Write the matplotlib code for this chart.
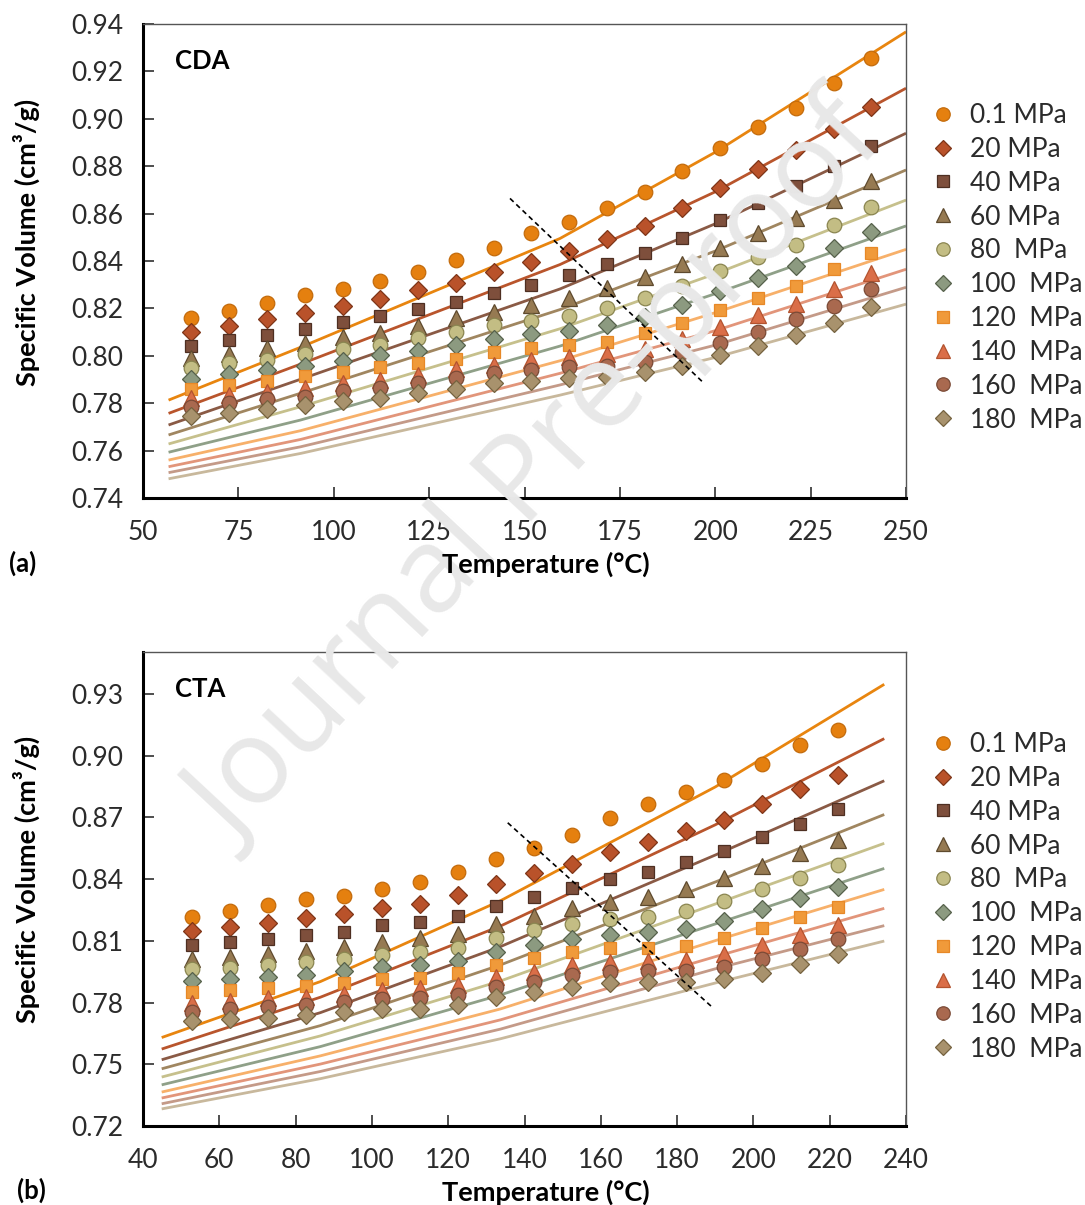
import matplotlib
matplotlib.use('Agg')
import matplotlib.pyplot as plt
from matplotlib.lines import Line2D

plt.rcParams['font.family'] = ['Lato', 'DejaVu Sans']

# ---------------- data ----------------
labels = ['0.1 MPa', '20 MPa', '40 MPa', '60 MPa', '80  MPa', '100  MPa',
          '120  MPa', '140  MPa', '160  MPa', '180  MPa']

# CDA (a)
temp_a = [62.7, 72.6, 82.5, 92.4, 102.3, 112.2, 122.1, 132.0, 141.9, 151.8,
          161.7, 171.6, 181.5, 191.4, 201.3, 211.2, 221.1, 231.0, 240.9]
cda_p0 = [0.8158, 0.8190, 0.8223, 0.8256, 0.8282, 0.8317, 0.8353, 0.8404, 0.8453, 0.8519, 0.8566, 0.8622, 0.8690, 0.8780, 0.8878, 0.8967, 0.9047, 0.9150, 0.9255]
cda_p20 = [0.8102, 0.8127, 0.8154, 0.8182, 0.8211, 0.8240, 0.8277, 0.8308, 0.8352, 0.8397, 0.8443, 0.8491, 0.8549, 0.8625, 0.8709, 0.8788, 0.8868, 0.8956, 0.9048]
cda_p40 = [0.8041, 0.8066, 0.8088, 0.8112, 0.8141, 0.8168, 0.8197, 0.8228, 0.8264, 0.8299, 0.8341, 0.8386, 0.8435, 0.8496, 0.8573, 0.8643, 0.8716, 0.8801, 0.8885]
cda_p60 = [0.7989, 0.8006, 0.8031, 0.8055, 0.8078, 0.8097, 0.8126, 0.8158, 0.8186, 0.8214, 0.8242, 0.8285, 0.8331, 0.8386, 0.8456, 0.8519, 0.8580, 0.8657, 0.8739]
cda_p80 = [0.7950, 0.7968, 0.7982, 0.8006, 0.8028, 0.8045, 0.8073, 0.8099, 0.8130, 0.8147, 0.8169, 0.8200, 0.8245, 0.8296, 0.8359, 0.8415, 0.8467, 0.8552, 0.8629]
cda_p100 = [0.7901, 0.7923, 0.7940, 0.7958, 0.7979, 0.8003, 0.8020, 0.8045, 0.8071, 0.8090, 0.8104, 0.8130, 0.8165, 0.8214, 0.8275, 0.8327, 0.8379, 0.8453, 0.8524]
cda_p120 = [0.7860, 0.7877, 0.7893, 0.7915, 0.7933, 0.7954, 0.7971, 0.7986, 0.8018, 0.8031, 0.8045, 0.8059, 0.8095, 0.8140, 0.8193, 0.8242, 0.8296, 0.8365, 0.8432]
cda_p140 = [0.7820, 0.7834, 0.7848, 0.7865, 0.7884, 0.7898, 0.7919, 0.7944, 0.7961, 0.7982, 0.7996, 0.8006, 0.8027, 0.8069, 0.8123, 0.8172, 0.8217, 0.8280, 0.8348]
cda_p160 = [0.7785, 0.7799, 0.7816, 0.7827, 0.7851, 0.7863, 0.7884, 0.7905, 0.7926, 0.7940, 0.7951, 0.7957, 0.7975, 0.8015, 0.8055, 0.8102, 0.8154, 0.8210, 0.8282]
cda_p180 = [0.7747, 0.7760, 0.7775, 0.7792, 0.7810, 0.7820, 0.7842, 0.7860, 0.7886, 0.7893, 0.7905, 0.7912, 0.7933, 0.7958, 0.8003, 0.8042, 0.8088, 0.8140, 0.8207]

# CDA model lines (read at a few temperatures)
fit_temp_a = [56.7, 91.3, 159.3, 200.0, 250.0]
cda_fit_p0 = [0.7813, 0.8036, 0.8495, 0.8859, 0.9367]
cda_fit_p20 = [0.7757, 0.7965, 0.8385, 0.8692, 0.9129]
cda_fit_p40 = [0.7708, 0.7901, 0.8282, 0.8557, 0.8939]
cda_fit_p60 = [0.7666, 0.7842, 0.8195, 0.8442, 0.8784]
cda_fit_p80 = [0.7628, 0.7785, 0.8114, 0.8346, 0.8657]
cda_fit_p100 = [0.7593, 0.7729, 0.8041, 0.8262, 0.8548]
cda_fit_p120 = [0.7560, 0.7684, 0.7979, 0.8182, 0.8449]
cda_fit_p140 = [0.7532, 0.7647, 0.7926, 0.8106, 0.8365]
cda_fit_p160 = [0.7507, 0.7616, 0.7877, 0.8045, 0.8289]
cda_fit_p180 = [0.7481, 0.7588, 0.7834, 0.7993, 0.8218]
cda_trans_T = [146.2, 196.6]
cda_trans_V = [0.8664, 0.7891]

# CTA (b)
temp_b = [52.8, 62.8, 72.7, 82.7, 92.6, 102.6, 112.6, 122.5, 132.5, 142.4,
          152.4, 162.4, 172.3, 182.3, 192.2, 202.2, 212.2, 222.1]
cta_p0 = [0.8214, 0.8245, 0.8274, 0.8302, 0.8319, 0.8352, 0.8384, 0.8433, 0.8496, 0.8549, 0.8614, 0.8695, 0.8763, 0.8824, 0.8881, 0.8962, 0.9051, 0.9127]
cta_p20 = [0.8148, 0.8169, 0.8188, 0.8213, 0.8231, 0.8261, 0.8279, 0.8323, 0.8376, 0.8428, 0.8473, 0.8533, 0.8579, 0.8633, 0.8687, 0.8764, 0.8836, 0.8905]
cta_p40 = [0.8080, 0.8093, 0.8111, 0.8129, 0.8145, 0.8177, 0.8193, 0.8221, 0.8271, 0.8314, 0.8358, 0.8400, 0.8433, 0.8481, 0.8536, 0.8603, 0.8666, 0.8739]
cta_p60 = [0.8011, 0.8023, 0.8036, 0.8052, 0.8072, 0.8093, 0.8113, 0.8133, 0.8182, 0.8222, 0.8261, 0.8290, 0.8314, 0.8352, 0.8404, 0.8464, 0.8525, 0.8590]
cta_p80 = [0.7962, 0.7970, 0.7983, 0.7996, 0.8011, 0.8031, 0.8045, 0.8064, 0.8113, 0.8153, 0.8181, 0.8206, 0.8217, 0.8245, 0.8295, 0.8352, 0.8407, 0.8468]
cta_p100 = [0.7905, 0.7914, 0.7926, 0.7934, 0.7954, 0.7975, 0.7983, 0.8002, 0.8048, 0.8080, 0.8111, 0.8129, 0.8142, 0.8158, 0.8198, 0.8253, 0.8307, 0.8360]
cta_p120 = [0.7850, 0.7862, 0.7873, 0.7882, 0.7897, 0.7914, 0.7921, 0.7946, 0.7983, 0.8015, 0.8048, 0.8064, 0.8067, 0.8077, 0.8115, 0.8164, 0.8214, 0.8266]
cta_p140 = [0.7797, 0.7810, 0.7821, 0.7829, 0.7841, 0.7862, 0.7870, 0.7886, 0.7926, 0.7950, 0.7983, 0.7999, 0.8002, 0.8007, 0.8036, 0.8080, 0.8129, 0.8177]
cta_p160 = [0.7756, 0.7768, 0.7778, 0.7789, 0.7805, 0.7816, 0.7821, 0.7837, 0.7878, 0.7902, 0.7934, 0.7948, 0.7954, 0.7954, 0.7975, 0.8012, 0.8061, 0.8108]
cta_p180 = [0.7708, 0.7721, 0.7727, 0.7740, 0.7753, 0.7769, 0.7769, 0.7789, 0.7829, 0.7853, 0.7875, 0.7894, 0.7899, 0.7899, 0.7915, 0.7946, 0.7986, 0.8035]

fit_temp_b = [44.9, 86.5, 133.7, 190.0, 234.3]
cta_fit_p0 = [0.7630, 0.7902, 0.8295, 0.8848, 0.9347]
cta_fit_p20 = [0.7574, 0.7826, 0.8172, 0.8664, 0.9083]
cta_fit_p40 = [0.7522, 0.7751, 0.8072, 0.8517, 0.8878]
cta_fit_p60 = [0.7478, 0.7688, 0.7983, 0.8386, 0.8714]
cta_fit_p80 = [0.7438, 0.7638, 0.7905, 0.8279, 0.8574]
cta_fit_p100 = [0.7400, 0.7586, 0.7837, 0.8182, 0.8452]
cta_fit_p120 = [0.7365, 0.7541, 0.7769, 0.8101, 0.8350]
cta_fit_p140 = [0.7336, 0.7501, 0.7716, 0.8023, 0.8258]
cta_fit_p160 = [0.7308, 0.7465, 0.7671, 0.7964, 0.8174]
cta_fit_p180 = [0.7283, 0.7430, 0.7624, 0.7895, 0.8099]
cta_trans_T = [135.6, 189.3]
cta_trans_V = [0.8674, 0.7776]

xticks_a = [50, 75, 100, 125, 150, 175, 200, 225, 250]
yticks_a = [0.74, 0.76, 0.78, 0.80, 0.82, 0.84, 0.86, 0.88, 0.90, 0.92, 0.94]
xticks_b = [40, 60, 80, 100, 120, 140, 160, 180, 200, 220, 240]
yticks_b = [0.72, 0.75, 0.78, 0.81, 0.84, 0.87, 0.90, 0.93]

# ---------------- styles ----------------
markers = ['o', 'D', 's', '^', 'o', 'D', 's', '^', 'o', 'D']
msizes = {'o': 10.5, 'D': 8.8, 's': 9.2, '^': 11.0}
face = ['#E5800F', '#B9522A', '#7E4F3C', '#967A52', '#C3BD84', '#8C9A80',
        '#F09A3A', '#DA6E48', '#A9694F', '#A8926D']
edge = ['#C36B0C', '#7E3518', '#4E2F22', '#5E4A2E', '#8A8550', '#56614B',
        '#E78827', '#B3532F', '#7A4A36', '#75623F']
linec = ['#E8850F', '#B9552C', '#8A5A45', '#A08660', '#C6C08C', '#8FA088',
         '#F7B06A', '#E2957A', '#C49A88', '#C8B89C']

TICK_FS = 19
LAB_FS = 19.5
TXT_COLOR = '#2b2b2b'

fig = plt.figure(figsize=(10.85, 12.05), dpi=100)
fig.patch.set_facecolor('white')

# watermark under the axes
fig.text(540 / 1085, 1 - 476 / 1205, 'Journal Pre-proof', rotation=47,
         ha='center', va='center', fontsize=86, color='#e8e8e8',
         family=['Open Sans', 'DejaVu Sans'], zorder=0)


def panel(rect, temps, series, fit_t, fits, tr_t, tr_v, xt, yt, xlim, ylim,
          name, name_xy, leg_anchor):
    ax = fig.add_axes(rect)
    ax.set_facecolor('none')
    for i in range(10):
        ax.plot(fit_t, fits[i], '-', color=linec[i], lw=2.0, zorder=2,
                solid_capstyle='butt', solid_joinstyle='round')
    for i in range(10):
        ax.plot(temps, series[i], linestyle='none', marker=markers[i],
                ms=msizes[markers[i]], mfc=face[i], mec=edge[i], mew=0.9,
                zorder=3 + i * 0.01)
    ax.plot(tr_t, tr_v, color='black', lw=1.2, ls=(0, (3, 2.2)), zorder=5)
    ax.set_xlim(*xlim)
    ax.set_ylim(*ylim)
    ax.set_xticks(xt)
    ax.set_yticks(yt)
    ax.set_xticklabels([str(v) for v in xt])
    ax.set_yticklabels(['%.2f' % v for v in yt])
    ax.tick_params(direction='in', length=8, width=1.3, color='#404040',
                   labelsize=TICK_FS, labelcolor=TXT_COLOR)
    ax.tick_params(axis='x', pad=16)
    ax.tick_params(axis='y', pad=14)
    for s in ['left', 'bottom']:
        ax.spines[s].set_linewidth(2.2)
        ax.spines[s].set_color('black')
    for s in ['top', 'right']:
        ax.spines[s].set_linewidth(1.0)
        ax.spines[s].set_color('#555555')
    ax.text(name_xy[0], name_xy[1], name, transform=ax.transAxes,
            fontsize=18.5, fontweight='bold', ha='left', va='center')
    handles = [Line2D([], [], linestyle='none', marker=markers[i],
                      ms=msizes[markers[i]] * 0.92, mfc=face[i], mec=edge[i],
                      mew=0.9) for i in range(10)]
    leg = ax.legend(handles, labels, loc='upper left', bbox_to_anchor=leg_anchor,
                    bbox_transform=fig.transFigure, frameon=False, borderpad=0,
                    borderaxespad=0, handlelength=1.0, handletextpad=0.5,
                    labelspacing=0.335, prop={'size': TICK_FS})
    for t in leg.get_texts():
        t.set_color(TXT_COLOR)
    return ax


W, H = 1085.0, 1205.0
rect_a = [143 / W, 1 - 498 / H, 763 / W, 474 / H]
rect_b = [143 / W, 1 - 1126 / H, 763 / W, 474 / H]

series_a = [cda_p0, cda_p20, cda_p40, cda_p60, cda_p80, cda_p100, cda_p120,
            cda_p140, cda_p160, cda_p180]
fits_a = [cda_fit_p0, cda_fit_p20, cda_fit_p40, cda_fit_p60, cda_fit_p80,
          cda_fit_p100, cda_fit_p120, cda_fit_p140, cda_fit_p160, cda_fit_p180]
series_b = [cta_p0, cta_p20, cta_p40, cta_p60, cta_p80, cta_p100, cta_p120,
            cta_p140, cta_p160, cta_p180]
fits_b = [cta_fit_p0, cta_fit_p20, cta_fit_p40, cta_fit_p60, cta_fit_p80,
          cta_fit_p100, cta_fit_p120, cta_fit_p140, cta_fit_p160, cta_fit_p180]

panel(rect_a, temp_a, series_a, fit_temp_a, fits_a, cda_trans_T, cda_trans_V,
      xticks_a, yticks_a, (50, 250), (0.74, 0.94), 'CDA', (0.042, 0.922),
      (930 / W, 1 - 103 / H))
panel(rect_b, temp_b, series_b, fit_temp_b, fits_b, cta_trans_T, cta_trans_V,
      xticks_b, yticks_b, (40, 240), (0.72, 0.9504), 'CTA', (0.042, 0.922),
      (930 / W, 1 - 732 / H))

# axis titles and panel tags
for yc in (564, 1192):
    fig.text(546 / W, 1 - yc / H, 'Temperature (°C)', ha='center', va='center',
             fontsize=LAB_FS, fontweight='bold')
for yc in (242, 879):
    fig.text(26 / W, 1 - yc / H, 'Specific Volume (cm³/g)', ha='center',
             va='center', rotation=90, fontsize=LAB_FS, fontweight='bold')
fig.text(23 / W, 1 - 563 / H, '(a)', ha='center', va='center', fontsize=18.5,
         fontweight='bold')
fig.text(31 / W, 1 - 1190 / H, '(b)', ha='center', va='center', fontsize=18.5,
         fontweight='bold')

fig.savefig('out.png', dpi=100, facecolor='white')
